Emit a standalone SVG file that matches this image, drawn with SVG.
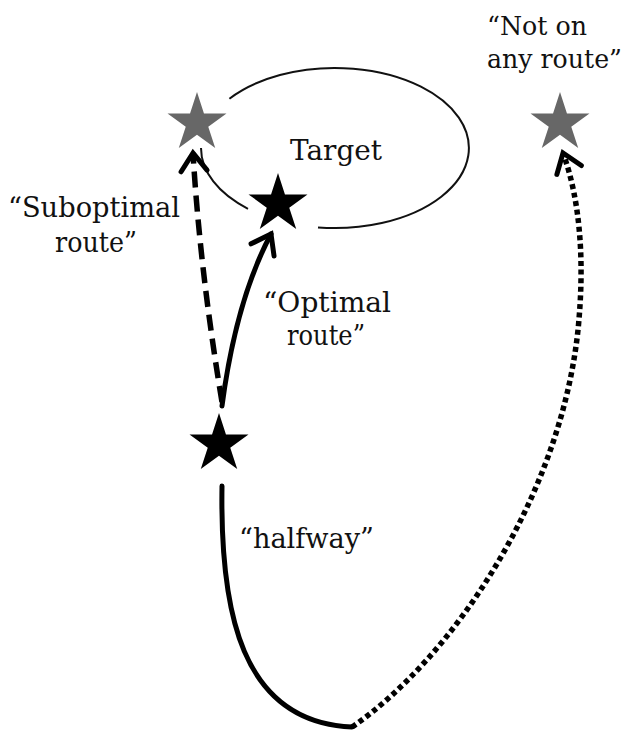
<svg xmlns="http://www.w3.org/2000/svg" width="632" height="730" viewBox="0 0 632 730">
  <style>
    .lbl { font-family: "DejaVu Serif", "Liberation Serif", serif; font-size: 28.5px; fill: #111; }
    .edge { font-size: 26px; }
    .route { fill: none; stroke: #000; stroke-width: 5; }
    .solid { stroke-linecap: round; }
    .dashed { stroke-dasharray: 16 8; stroke-width: 5.5; }
    .dotted { stroke-dasharray: 5 3.6; stroke-width: 5.5; }
    .target { fill: none; stroke: #111; stroke-width: 2; }
    .star-black { fill: #000; }
    .star-gray { fill: #676767; }
  </style>
  <defs>
    <path id="star" d="M0,-31 L6.96,-9.58 L29.48,-9.58 L11.26,3.66 L18.22,25.08 L0,11.84 L-18.22,25.08 L-11.26,3.66 L-29.48,-9.58 L-6.96,-9.58 Z"/>
    <marker id="chev" markerUnits="userSpaceOnUse" markerWidth="40" markerHeight="40" viewBox="-24 -20 30 40" refX="0" refY="0" orient="auto">
      <path d="M-18,-13 L0,0 L-18,13" fill="none" stroke="#000" stroke-width="5" stroke-linecap="round" stroke-linejoin="miter"/>
    </marker>
  </defs>

  <g id="target-area">
    <path class="target" d="M229.4,98.7 A134 80 0 1 1 318,227.4"/>
    <path class="target" d="M201,148 A134 80 0 0 0 248,208.8"/>
    <text class="lbl" x="290" y="160" textLength="92" lengthAdjust="spacingAndGlyphs">Target</text>
  </g>

  <g id="connectors">
    <path id="halfway-route" class="route solid" d="M222,486 C220,610 240,722 352,727"/>
    <path id="any-route" class="route dotted" d="M352,727 C450,660 560,500 578,330 C585,260 580,200 563,153" marker-end="url(#chev)"/>
    <path id="suboptimal-route" class="route dashed" d="M222,402 Q200,270 193,153" marker-end="url(#chev)"/>
    <path id="optimal-route" class="route solid" d="M222,406 Q236,300 271,234" marker-end="url(#chev)"/>
  </g>

  <g id="node-suboptimal">
    <use href="#star" class="star-gray" transform="translate(197,123)"/>
    <text class="lbl" x="8" y="217" textLength="172" lengthAdjust="spacingAndGlyphs">“Suboptimal</text>
    <text class="lbl" x="55" y="252" textLength="82" lengthAdjust="spacingAndGlyphs">route”</text>
  </g>

  <g id="node-target">
    <use href="#star" class="star-black" transform="translate(278,204)"/>
    <text class="lbl" x="263" y="312" textLength="128" lengthAdjust="spacingAndGlyphs">“Optimal</text>
    <text class="lbl" x="287" y="345" textLength="78" lengthAdjust="spacingAndGlyphs">route”</text>
  </g>

  <g id="node-not-on-route">
    <use href="#star" class="star-gray" transform="translate(560,123)"/>
    <text class="lbl edge" x="487" y="35" textLength="100" lengthAdjust="spacingAndGlyphs">“Not on</text>
    <text class="lbl edge" x="487" y="68" textLength="135" lengthAdjust="spacingAndGlyphs">any route”</text>
  </g>

  <g id="node-halfway">
    <use href="#star" class="star-black" transform="translate(219,444)"/>
    <text class="lbl" x="239" y="548" textLength="135" lengthAdjust="spacingAndGlyphs">“halfway”</text>
  </g>
</svg>
